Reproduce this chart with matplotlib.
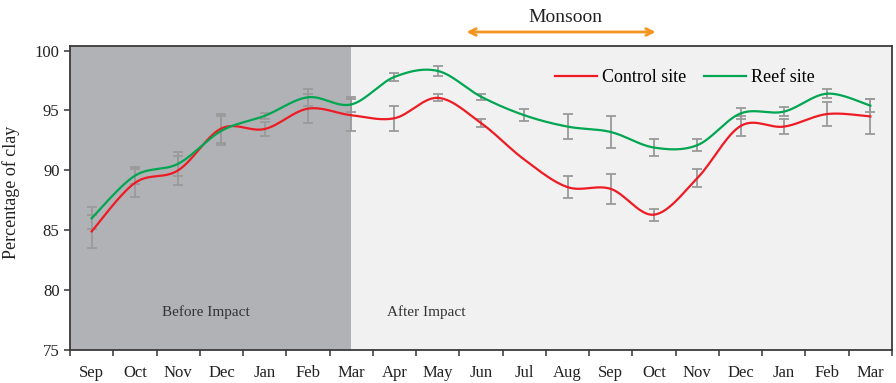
import matplotlib
matplotlib.use("Agg")
import matplotlib.pyplot as plt
import numpy as np

plt.rcParams['font.family'] = ['Liberation Serif', 'DejaVu Serif']

months = ["Sep", "Oct", "Nov", "Dec", "Jan", "Feb", "Mar", "Apr", "May", "Jun",
          "Jul", "Aug", "Sep", "Oct", "Nov", "Dec", "Jan", "Feb", "Mar"]

control = [84.9, 88.95, 90.0, 93.5, 93.45, 95.15, 94.6, 94.35, 96.05, 93.95,
           90.9, 88.6, 88.45, 86.3, 89.35, 93.7, 93.65, 94.7, 94.5]
control_err = [1.4, 1.2, 1.2, 1.2, 0.55, 1.2, 1.35, 1.05, 0.3, 0.3,
               0.0, 0.95, 1.25, 0.5, 0.75, 0.8, 0.65, 1.0, 1.45]

reef = [86.0, 89.55, 90.55, 93.3, 94.55, 96.1, 95.5, 97.8, 98.3, 96.15,
        94.6, 93.65, 93.2, 91.9, 92.1, 94.75, 94.9, 96.4, 95.4]
reef_err = [0.9, 0.7, 1.0, 1.2, 0.25, 0.7, 0.6, 0.35, 0.4, 0.25,
            0.5, 1.05, 1.3, 0.7, 0.5, 0.45, 0.4, 0.35, 0.55]


def smooth(xs, ys, n=30):
    # Catmull-Rom curve through the points, like a spreadsheet "smoothed line"
    xs = np.asarray(xs, float)
    ys = np.asarray(ys, float)
    px = np.concatenate([[xs[0]], xs, [xs[-1]]])
    py = np.concatenate([[ys[0]], ys, [ys[-1]]])
    t = np.linspace(0, 1, n)
    outx, outy = [], []
    for i in range(1, len(px) - 2):
        for p, out in ((px, outx), (py, outy)):
            p0, p1, p2, p3 = p[i - 1], p[i], p[i + 1], p[i + 2]
            out.append(0.5 * (2 * p1 + (-p0 + p2) * t
                              + (2 * p0 - 5 * p1 + 4 * p2 - p3) * t ** 2
                              + (-p0 + 3 * p1 - 3 * p2 + p3) * t ** 3))
    return np.concatenate(outx), np.concatenate(outy)


x = np.arange(len(months)) + 0.5

fig = plt.figure(figsize=(8.96, 3.83), dpi=100)
ax = fig.add_axes([70 / 896, 1 - 350 / 383, 822 / 896, 304 / 383])

ax.set_xlim(0, len(months))
ax.set_ylim(75, 100.38)

# before / after impact backgrounds
ax.axvspan(0, x[6], color='#b1b2b6', lw=0, zorder=0)
ax.axvspan(x[6], len(months), color='#f1f1f1', lw=0, zorder=0)

for vals, errs in ((reef, reef_err), (control, control_err)):
    vals = np.array(vals)
    errs = np.array(errs)
    m = errs > 0
    ax.errorbar(x[m], vals[m], yerr=errs[m], fmt='none', ecolor='#9a9a9a',
                elinewidth=1.3, capsize=3.6, capthick=1.3, zorder=2)

sx, sy = smooth(x, control)
ax.plot(sx, sy, color='#ed1c24', lw=1.6, zorder=3, label='Control site')
sx, sy = smooth(x, reef)
ax.plot(sx, sy, color='#00a651', lw=1.6, zorder=3, label='Reef site')

ax.legend(loc='center left', bbox_to_anchor=(0.590, 0.895), ncol=2,
          frameon=False, fontsize=13, handlelength=2.3, handletextpad=0.3,
          columnspacing=1.0, borderpad=0, borderaxespad=0)

ax.text(3.15, 78.15, "Before Impact", fontsize=11, ha='center', va='center',
        color='#333333')
ax.text(8.23, 78.15, "After Impact", fontsize=11, ha='center', va='center',
        color='#333333')

# monsoon period marker above the plot
ax.annotate('', xy=(13.6, 101.55), xytext=(9.1, 101.55),
            arrowprops=dict(arrowstyle='<->', color='#f7941d', lw=2,
                            mutation_scale=12),
            annotation_clip=False)
ax.text(11.44, 102.75, "Monsoon", fontsize=14, ha='center', va='center',
        color='#222222', clip_on=False)

ax.set_xticks(np.arange(len(months) + 1))
ax.set_xticklabels([])
ax.set_xticks(x, minor=True)
ax.set_xticklabels(months, minor=True, fontsize=12, color='#222222')
ax.tick_params(axis='x', which='minor', length=0, pad=11)
ax.tick_params(axis='x', which='major', length=4, width=1.1, color='#333333')

ax.set_yticks([75, 80, 85, 90, 95, 100])
ax.tick_params(axis='y', length=4, width=1.1, color='#333333',
               labelsize=12, labelcolor='#222222')

ax.set_ylabel("Percentage of clay", fontsize=13, color='#222222')
ax.yaxis.set_label_coords(-0.061, 0.52)

for s in ax.spines.values():
    s.set_color('#3a3a3a')
    s.set_linewidth(1.3)

fig.savefig("out.png", dpi=100)
